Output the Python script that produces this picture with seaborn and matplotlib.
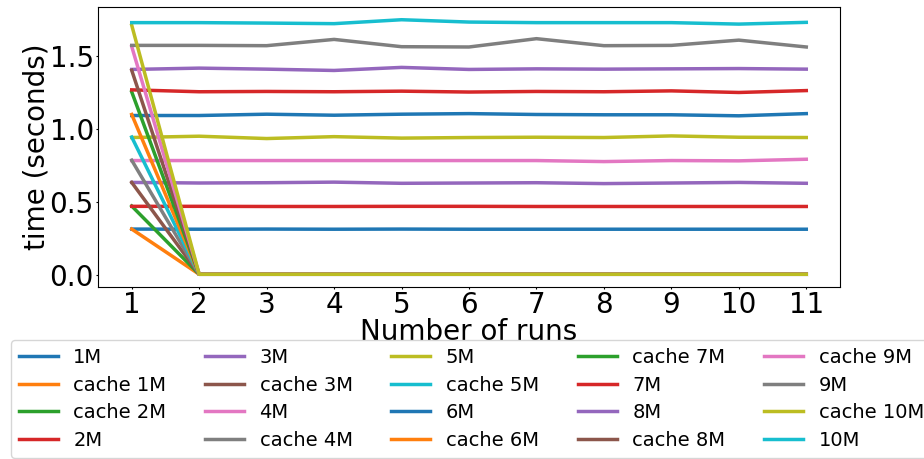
import matplotlib
matplotlib.use("Agg")
import matplotlib.pyplot as plt
import seaborn as sns
import pandas as pd

runs = [1, 2, 3, 4, 5, 6, 7, 8, 9, 10, 11]

t_1M = [0.314, 0.313, 0.314, 0.313, 0.314, 0.313, 0.313, 0.313, 0.313, 0.313, 0.313]
t_2M = [0.470, 0.470, 0.469, 0.469, 0.470, 0.470, 0.469, 0.469, 0.469, 0.469, 0.469]
t_3M = [0.634, 0.630, 0.632, 0.636, 0.628, 0.630, 0.632, 0.626, 0.630, 0.634, 0.628]
t_4M = [0.784, 0.784, 0.784, 0.784, 0.784, 0.784, 0.784, 0.777, 0.784, 0.782, 0.793]
t_5M = [0.942, 0.951, 0.935, 0.948, 0.938, 0.942, 0.944, 0.942, 0.953, 0.944, 0.942]
t_6M = [1.093, 1.093, 1.102, 1.095, 1.102, 1.106, 1.100, 1.098, 1.098, 1.091, 1.106]
t_7M = [1.269, 1.256, 1.258, 1.256, 1.260, 1.254, 1.258, 1.256, 1.262, 1.251, 1.264]
t_8M = [1.409, 1.418, 1.411, 1.402, 1.423, 1.409, 1.413, 1.411, 1.413, 1.415, 1.411]
t_9M = [1.574, 1.574, 1.572, 1.615, 1.565, 1.563, 1.620, 1.572, 1.574, 1.610, 1.563]
t_10M = [1.730, 1.730, 1.727, 1.723, 1.750, 1.734, 1.730, 1.730, 1.730, 1.720, 1.732]

c_1M = [0.314, 0.004, 0.004, 0.004, 0.004, 0.004, 0.004, 0.004, 0.004, 0.004, 0.004]
c_2M = [0.472, 0.004, 0.004, 0.004, 0.004, 0.004, 0.004, 0.004, 0.004, 0.004, 0.004]
c_3M = [0.634, 0.004, 0.004, 0.004, 0.004, 0.004, 0.004, 0.004, 0.004, 0.004, 0.004]
c_4M = [0.786, 0.004, 0.004, 0.004, 0.004, 0.004, 0.004, 0.004, 0.004, 0.004, 0.004]
c_5M = [0.945, 0.004, 0.004, 0.004, 0.004, 0.004, 0.004, 0.004, 0.004, 0.004, 0.004]
c_6M = [1.100, 0.004, 0.004, 0.004, 0.004, 0.004, 0.004, 0.004, 0.004, 0.004, 0.004]
c_7M = [1.255, 0.004, 0.004, 0.004, 0.004, 0.004, 0.004, 0.004, 0.004, 0.004, 0.004]
c_8M = [1.403, 0.004, 0.004, 0.004, 0.004, 0.004, 0.004, 0.004, 0.004, 0.004, 0.004]
c_9M = [1.566, 0.004, 0.004, 0.004, 0.004, 0.004, 0.004, 0.004, 0.004, 0.004, 0.004]
c_10M = [1.712, 0.004, 0.004, 0.004, 0.004, 0.004, 0.004, 0.004, 0.004, 0.004, 0.004]

series = [
    ("1M", t_1M), ("cache 1M", c_1M), ("cache 2M", c_2M), ("2M", t_2M),
    ("3M", t_3M), ("cache 3M", c_3M), ("4M", t_4M), ("cache 4M", c_4M),
    ("5M", t_5M), ("cache 5M", c_5M), ("6M", t_6M), ("cache 6M", c_6M),
    ("cache 7M", c_7M), ("7M", t_7M), ("8M", t_8M), ("cache 8M", c_8M),
    ("cache 9M", c_9M), ("9M", t_9M), ("cache 10M", c_10M), ("10M", t_10M),
]

rows = []
for name, vals in series:
    for r, v in zip(runs, vals):
        rows.append({"run": r, "time": v, "series": name})
df = pd.DataFrame(rows)
order = [n for n, _ in series]
tab10 = sns.color_palette("tab10", 10)
palette = {n: tab10[i % 10] for i, n in enumerate(order)}

plt.rcParams['font.family'] = ['DejaVu Sans']
fig = plt.figure(figsize=(9.24, 4.59), dpi=100)
ax = fig.add_axes([98/924, 1 - 287/459, (840 - 98)/924, (287 - 7)/459])
sns.lineplot(data=df, x="run", y="time", hue="series", hue_order=order,
             palette=palette, linewidth=2.5, ax=ax)

ax.set_xticks(runs)
ax.tick_params(axis='both', labelsize=20, length=1.5, pad=1.5)
ax.set_xlabel("Number of runs", fontsize=20, labelpad=-1)
ax.set_ylabel("time (seconds)", fontsize=20, labelpad=-1)

handles, labels = ax.get_legend_handles_labels()
ax.get_legend().remove()
fig.legend(handles, labels, loc='upper left', bbox_to_anchor=(11/924, 1 - 340/459),
           ncol=5, fontsize=14, labelspacing=0.45, columnspacing=2.0,
           borderaxespad=0)

fig.savefig("out.png", dpi=100)
